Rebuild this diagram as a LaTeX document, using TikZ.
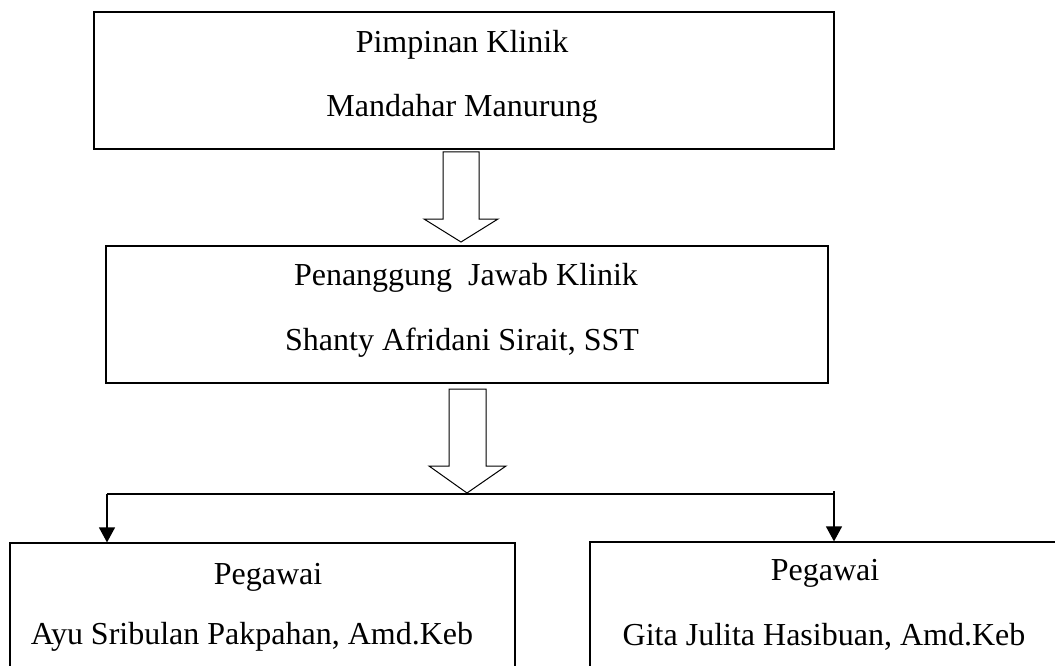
\documentclass[tikz,border=0pt]{standalone}
\usepackage{fontspec}
\setmainfont{Liberation Serif}
\usetikzlibrary{arrows.meta}

\begin{document}
\begin{tikzpicture}[x = 1pt, y = -1pt, > = {Triangle[length = 15pt, width = 16pt]},
	box/.style = {draw, line width = 1.2pt, inner sep = 0pt},
	txt/.style = {font = \fontsize{32}{38}\selectfont, inner sep = 0pt},
	blockarrow/.style = {draw, line width = 1pt, fill = white},
	link/.style = {line width = 1.2pt}]

	% Page
	
	\clip (0, 0) rectangle (1055, 666);

	% Boxes
	
	\node [box, minimum width = 740, minimum height = 137] (pimpinan) at (464, 80.5) {};
	\node [box, minimum width = 722, minimum height = 137] (penanggung) at (467, 314.5) {};
	\node [box, minimum width = 505, minimum height = 177] (ayu) at (262.5, 631.5) {};
	\node [box, minimum width = 468, minimum height = 178] (gita) at (824, 631) {};
	
	% Texts
	
	\node [txt] (pimpinanjab) at (462, 45) {Pimpinan Klinik};
	\node [txt] (pimpinannama) at (462, 109) {Mandahar Manurung};
	\node [txt] (penanggungjab) at (466, 278) {Penanggung~ Jawab Klinik};
	\node [txt] (penanggungnama) at (462, 343) {Shanty Afridani Sirait, SST};
	\node [txt] (ayujab) at (268, 577) {Pegawai};
	\node [txt] (ayunama) at (252, 637) {Ayu Sribulan Pakpahan, Amd.Keb};
	\node [txt] (gitajab) at (825, 573) {Pegawai};
	\node [txt] (gitanama) at (824, 637) {Gita Julita Hasibuan, Amd.Keb};
	
	% Block arrows
	
	\draw [blockarrow] (443, 152) -- (479, 152) -- (479, 219) -- (498, 219) -- (461, 242) -- (424, 219) -- (443, 219) -- cycle;
	\draw [blockarrow] (449, 389) -- (486, 389) -- (486, 466) -- (506, 466) -- (467, 493) -- (429, 466) -- (449, 466) -- cycle;
	
	% Branches to staff
	
	\coordinate (kiri) at (107, 494);
	\coordinate (kanan) at (834, 494);
	\draw [link] (kiri) -- (kanan);
	\draw [link, ->] (kiri) -- (kiri |- ayu.north);
	\draw [link, ->] ([yshift = 3pt] kanan) -- (kanan |- gita.north);

\end{tikzpicture}
\end{document}
